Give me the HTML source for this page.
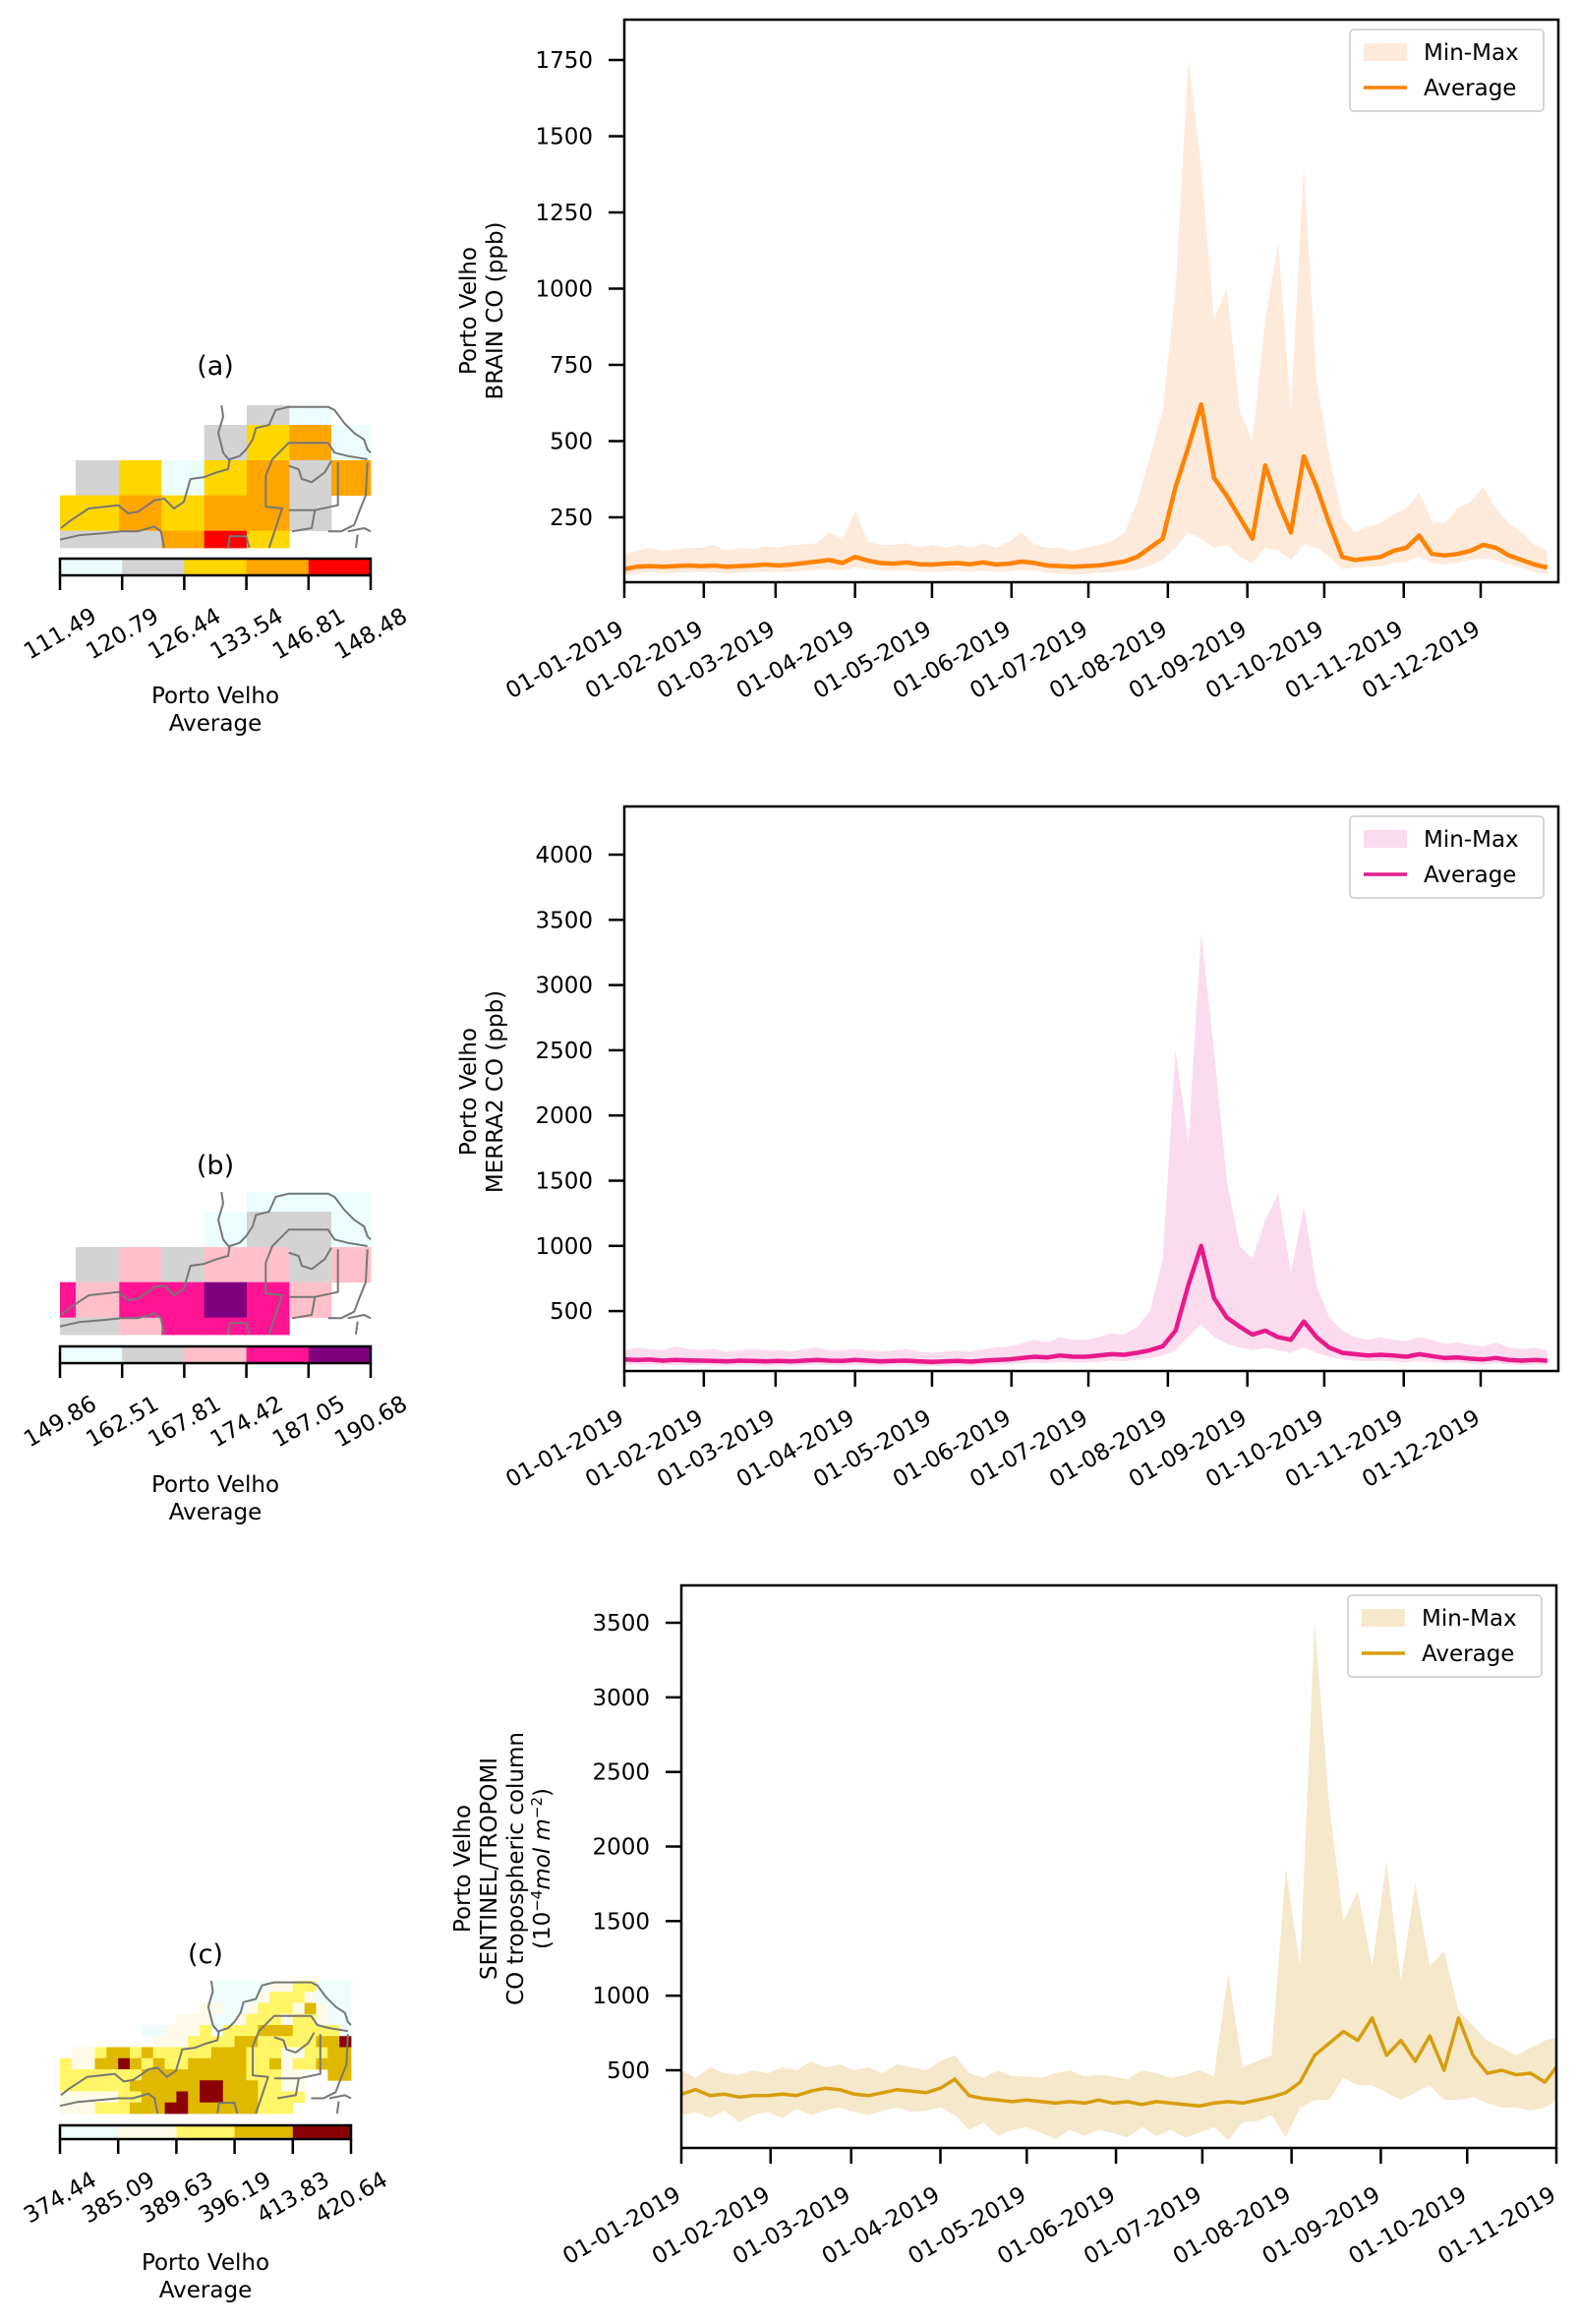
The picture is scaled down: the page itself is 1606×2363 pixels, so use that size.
<!DOCTYPE html>
<html><head><meta charset="utf-8"><style>
html,body{margin:0;padding:0;background:#fff;}
svg{display:block;font-family:"DejaVu Sans","Liberation Sans",sans-serif;}
</style></head><body>
<svg id="fig" width="1606" height="2363" viewBox="0 0 1606 2363" xmlns="http://www.w3.org/2000/svg"></svg>
<script>
// ---------- DATA ----------
const step12 = 5;
const monthLabels = ["01-01-2019","01-02-2019","01-03-2019","01-04-2019","01-05-2019","01-06-2019","01-07-2019","01-08-2019","01-09-2019","01-10-2019","01-11-2019","01-12-2019"];
const monthDays = [0,31,59,90,120,151,181,212,243,273,304,334];

const brainAvg = [80,88,90,88,90,92, 90,92,88,90,92,95, 92,95,100,105,110,100, 120,108,100,98,102,96, 95,98,100,96,102,95, 98,105,100,92,90,88, 90,92,98,105,120,150, 180,350,480,620,380,320, 250,180,420,300,200,450, 350,230,120,110,115,120, 140,150,190,130,125,130, 140,160,150,125,110,95, 85];
const brainMax = [130,140,150,140,145,150, 150,160,140,150,145,155, 150,160,160,165,200,180, 270,170,160,160,165,150, 160,150,160,150,165,150, 170,200,160,150,150,140, 150,160,170,200,300,450, 600,1000,1750,1400,900,1000, 600,500,900,1150,600,1400, 700,450,250,200,220,230, 260,280,330,240,230,280, 300,350,280,230,200,160, 140];
const brainMin = [60,65,70,65,68,70, 70,70,65,68,70,72, 70,72,75,78,80,75, 85,80,75,75,78,72, 70,72,75,70,75,70, 72,78,75,68,65,62, 65,68,70,75,80,90, 110,150,200,180,150,160, 120,100,150,140,110,160, 150,120,80,85,88,90, 100,105,120,100,95,100, 110,115,110,95,85,70, 65];

const merraAvg = [130,125,128,120,125,122, 120,118,115,120,118,115, 118,115,120,125,120,118, 125,120,115,118,120,115, 110,115,118,112,120,125, 130,140,150,145,160,150, 150,160,170,165,180,200, 230,350,700,1000,600,450, 380,320,350,300,280,420, 300,220,180,170,160,165, 160,150,170,155,140,145, 135,130,140,125,120,125, 120];
const merraMax = [200,220,210,200,230,210, 200,210,190,200,210,200, 200,190,210,220,200,200, 210,200,190,200,210,190, 180,190,200,190,210,220, 230,250,280,260,300,280, 280,300,330,320,380,500, 900,2500,1800,3400,2500,1500, 1000,900,1200,1400,800,1300, 700,450,350,300,280,300, 280,270,300,280,250,260, 240,230,260,220,210,220, 200];
const merraMin = [90,88,90,85,88,85, 85,82,80,85,82,80, 82,80,85,88,85,82, 88,85,80,82,85,80, 78,80,82,78,85,88, 90,100,105,100,110,105, 105,110,120,115,125,140, 160,200,300,400,300,250, 220,200,220,200,180,220, 180,150,130,120,115,118, 115,105,120,110,100,105, 95,90,100,90,85,90, 85];

const step3 = 5;
const s5pAvg = [340,370,330,340,320,330, 330,340,330,360,380,370, 340,330,350,370,360,350, 380,440,330,310,300,290, 300,290,280,290,280,300, 280,290,270,290,280,270, 260,280,290,280,300,320, 350,420,600,680,760,700, 850,600,700,560,730,500, 850,600,480,500,470,480, 420,520];
const s5pMax = [500,450,520,480,470,500, 480,520,500,560,520,540, 500,520,480,540,520,500, 560,600,480,450,500,460, 460,450,480,500,460,470, 460,440,500,480,450,470, 500,460,1150,520,560,600, 1850,1200,3500,2300,1500,1700, 1200,1900,1100,1750,1200,1300, 900,800,700,650,600,650, 700,720];
const s5pMin = [200,220,180,230,150,200, 220,180,240,200,230,250, 220,200,230,250,220,230, 250,200,100,150,60,100, 120,80,40,100,60,100, 80,50,120,60,100,50, 80,120,30,150,160,200, 50,250,300,300,450,400, 400,350,300,350,400,300, 300,320,280,250,250,230, 250,300];

const cbarA = ["111.49","120.79","126.44","133.54","146.81","148.48"];
const cbarB = ["149.86","162.51","167.81","174.42","187.05","190.68"];
const cbarC = ["374.44","385.09","389.63","396.19","413.83","420.64"];

// ---------- HELPERS ----------
const NS = "http://www.w3.org/2000/svg";
const fig = document.getElementById('fig');
const FS = 23;
function mk(tag, attrs, parent){
  const e = document.createElementNS(NS, tag);
  for (const k in attrs) e.setAttribute(k, attrs[k]);
  (parent||fig).appendChild(e);
  return e;
}
function txt(s, attrs, parent){ const t = mk('text', attrs, parent); t.textContent = s; return t; }

function chart(cfg){
  const g = mk('g', {});
  
  
  const xs = d => cfg.L + d * (cfg.R - cfg.L) / cfg.xmax;
  const ys = v => cfg.y0 + (cfg.v0 - v) * cfg.k;
  const clip = 'clip-' + cfg.name;
  const cp = mk('clipPath', {id: clip}, g);
  mk('rect', {x: cfg.L, y: cfg.T, width: cfg.R - cfg.L, height: cfg.B - cfg.T}, cp);
  const n = cfg.avg.length;
  const day = i => Math.min(i * cfg.step, cfg.xmax);
  let d = '';
  for (let i = 0; i < n; i++) d += (i ? 'L' : 'M') + xs(day(i)).toFixed(1) + ' ' + ys(cfg.max[i]).toFixed(1);
  for (let i = n - 1; i >= 0; i--) d += 'L' + xs(day(i)).toFixed(1) + ' ' + ys(cfg.min[i]).toFixed(1);
  const band = mk('path', {d: d + 'Z', fill: cfg.fill, 'clip-path': 'url(#' + clip + ')'}, g);
  
  
  let l = '';
  for (let i = 0; i < n; i++) l += (i ? 'L' : 'M') + xs(day(i)).toFixed(1) + ' ' + ys(cfg.avg[i]).toFixed(1);
  const line = mk('path', {d: l, fill: 'none', stroke: cfg.color, 'stroke-width': cfg.lw, 'stroke-linejoin': 'round', 'clip-path': 'url(#' + clip + ')'}, g);
  
  
  const fr = mk('rect', {x: cfg.L, y: cfg.T, width: cfg.R - cfg.L, height: cfg.B - cfg.T, fill: 'none', stroke: '#000', 'stroke-width': 2.5}, g);
  
  
  for (const v of cfg.yticks){
    const y = ys(v);
    mk('line', {x1: cfg.L - 16, x2: cfg.L, y1: y, y2: y, stroke: '#000', 'stroke-width': 2.5}, g);
    const t = txt(String(v), {x: cfg.L - 32, y: y + 8, 'font-size': FS, 'text-anchor': 'end'}, g);
    
    
  }
  for (let i = 0; i < cfg.xlabels.length; i++){
    const x = xs(cfg.xdays[i]);
    mk('line', {x1: x, x2: x, y1: cfg.B, y2: cfg.B + 16, stroke: '#000', 'stroke-width': 2.5}, g);
    const t = txt(cfg.xlabels[i], {x: 0, y: 0, 'font-size': FS, 'text-anchor': 'end', transform: 'translate(' + (x + 1) + ',' + (cfg.B + 52) + ') rotate(-30)'}, g);
    
    
  }
  const yt = txt('', {'font-size': FS, 'text-anchor': 'middle', transform: 'translate(' + cfg.titleX + ',' + cfg.titleY + ') rotate(-90)'}, g);
  
  
  cfg.title.forEach((s, i) => {
    const ts = mk('tspan', {x: 0, y: i * 27}, yt);
    ts.innerHTML = s;
  });
  const lg = mk('g', {}, g);
  
  
  const lx = cfg.R - 212, ly = cfg.T + 10;
  mk('rect', {x: lx, y: ly, width: 197, height: 83, rx: 4, fill: '#fff', 'fill-opacity': 0.85, stroke: '#d6d6d6', 'stroke-width': 2}, lg);
  mk('rect', {x: lx + 14, y: ly + 14, width: 44, height: 18, fill: cfg.fill}, lg);
  mk('line', {x1: lx + 14, x2: lx + 58, y1: ly + 59, y2: ly + 59, stroke: cfg.color, 'stroke-width': 3.5}, lg);
  const t1 = txt('Min-Max', {x: lx + 75, y: ly + 31, 'font-size': FS}, lg);
  
  
  const t2 = txt('Average', {x: lx + 75, y: ly + 67, 'font-size': FS}, lg);
  
  
}

chart({name: 'brain-co-chart', L: 635, R: 1585, T: 20, B: 592, xmax: 364.3, y0: 61, v0: 1750, k: 0.31,
  avg: brainAvg, max: brainMax, min: brainMin, step: step12,
  yticks: [250,500,750,1000,1250,1500,1750], xlabels: monthLabels, xdays: monthDays,
  fill: '#feeadb', color: '#ff8200', lw: 4.5, titleX: 484, titleY: 316,
  title: ['Porto Velho', 'BRAIN CO (ppb)']});

chart({name: 'merra2-co-chart', L: 635, R: 1585, T: 820, B: 1394, xmax: 364.3, y0: 869, v0: 4000, k: 0.1326,
  avg: merraAvg, max: merraMax, min: merraMin, step: step12,
  yticks: [500,1000,1500,2000,2500,3000,3500,4000], xlabels: monthLabels, xdays: monthDays,
  fill: '#fbdcee', color: '#e8198b', lw: 4.5, titleX: 484, titleY: 1110,
  title: ['Porto Velho', 'MERRA2 CO (ppb)']});

chart({name: 'tropomi-co-chart', L: 693, R: 1583, T: 1612, B: 2184, xmax: 304, y0: 1650, v0: 3500, k: 0.15167,
  avg: s5pAvg, max: s5pMax, min: s5pMin, step: step3,
  yticks: [500,1000,1500,2000,2500,3000,3500], xlabels: monthLabels.slice(0, 11), xdays: monthDays.slice(0, 11),
  fill: '#f6e8cb', color: '#d69e0e', lw: 3.5, titleX: 478, titleY: 1900,
  title: ['Porto Velho', 'SENTINEL/TROPOMI', 'CO tropospheric column', '(10<tspan dy="-8" font-size="15">−4</tspan><tspan dy="8" font-style="italic">mol m</tspan><tspan dy="-8" font-size="15">−2</tspan><tspan dy="8">)</tspan>']});

// ---------- MAPS ----------
const palA = ['#ffffff','#ecfdfd','#d3d3d3','#ffd700','#ffa500','#ff0000'];
const palB = ['#ffffff','#ecfdfd','#d3d3d3','#ffc0cb','#ff1493','#800080'];
const palC = ['#ffffff','#eefcfc','#fdfbe7','#fff566','#dfb800','#8b0000'];
const gridA = ["00000210","00002341","02313424","33434420","22245300"];
const gridB = ["00000111","00001221","02323323","43445430","22344400"];
const gridC = [
 "0000000000000111112233111",
 "0000000000000111123332111",
 "0000000000002211233324211",
 "0000000000222112333233211",
 "0000000112223133344433331",
 "0000000022233334433333445",
 "0223443433333444333223344",
 "3224454343344444334233444",
 "3333333444444444333220044",
 "3333334444445544433220000",
 "2222233444545544433330000",
 "2223334445544444433300000"];

const borderPaths = [
 [[65,590],[90,570],[150,530],[240,520],[270,545],[300,540],[330,520],[350,505],[380,500],[410,530],[440,510],[460,440],[500,435],[540,420],[575,410],[580,380],[610,370],[630,350],[650,320],[660,285],[700,275],[720,230],[760,220],[880,220],[900,230],[930,270],[960,300],[990,320],[1000,350],[1010,360]],
 [[62,625],[120,612],[200,605],[250,600],[300,600],[350,585],[370,600],[380,650]],
 [[575,650],[580,615],[630,615],[640,650]],
 [[700,650],[720,590],[740,530],[690,525],[690,430],[710,380],[760,330],[880,330],[900,360],[940,370],[1000,380]],
 [[555,215],[560,250],[545,300],[560,360],[580,385]],
 [[760,400],[790,410],[800,440],[830,450],[870,420],[890,385]],
 [[910,390],[910,520],[840,535],[760,535]],
 [[840,535],[830,590],[770,600]],
 [[1000,390],[995,490],[975,540],[960,580],[920,600],[880,600]],
 [[940,600],[990,590],[1010,600]],
 [[970,610],[965,650]]
];

function mapPanel(o){
  const g = mk('g', {});
  
  
  const t = txt(o.label, {x: (o.x0 + o.x1) / 2, y: o.titleY, 'font-size': 27, 'text-anchor': 'middle'}, g);
  
  
  for (let r = 0; r < o.grid.length; r++){
    const row = o.grid[r];
    for (let c = 0; c < row.length; c++){
      const v = +row[c];
      if (!v) continue;
      mk('rect', {x: o.colX[c], y: o.rowY[r], width: o.colX[c + 1] - o.colX[c] + 0.4, height: o.rowH[r] + 0.4, fill: o.pal[v]}, g);
    }
  }
  const sx = (o.x1 - o.x0) / (1010 - 62), sy = (o.y1 - o.y0) / (650 - 215);
  for (const p of borderPaths){
    const d = p.map((q, i) => (i ? 'L' : 'M') + (o.x0 + (q[0] - 62) * sx).toFixed(1) + ' ' + (o.y0 + (q[1] - 215) * sy).toFixed(1)).join('');
    const e = mk('path', {d: d, fill: 'none', stroke: '#777', 'stroke-width': 2, 'stroke-linejoin': 'round'}, g);
    
    
  }
  const cb = mk('g', {}, g);
  
  
  const w = (o.x1 - o.x0) / 5;
  for (let i = 0; i < 5; i++) mk('rect', {x: o.x0 + i * w, y: o.cbY, width: w + 0.3, height: o.cbH, fill: o.pal[i + 1]}, cb);
  mk('rect', {x: o.x0, y: o.cbY, width: o.x1 - o.x0, height: o.cbH, fill: 'none', stroke: '#000', 'stroke-width': 2.5}, cb);
  for (let i = 0; i < 6; i++){
    const x = o.x0 + i * w;
    mk('line', {x1: x, x2: x, y1: o.cbY + o.cbH, y2: o.cbY + o.cbH + 15, stroke: '#000', 'stroke-width': 2.5}, cb);
    const tl = txt(o.ticks[i], {x: 0, y: 8, 'font-size': FS, 'text-anchor': 'middle', transform: 'translate(' + x + ',' + (o.cbY + o.cbH + 59) + ') rotate(-30)'}, cb);
    
    
  }
  const c1 = txt('Porto Velho', {x: (o.x0 + o.x1) / 2, y: o.capY, 'font-size': FS, 'text-anchor': 'middle'}, g);
  
  
  const c2 = txt('Average', {x: (o.x0 + o.x1) / 2, y: o.capY + 28, 'font-size': FS, 'text-anchor': 'middle'}, g);
  
  
}

function coarse(x0, x1, y0, y1){
  const sx = (x1 - x0) / (1010 - 62), sy = (y1 - y0) / (650 - 215);
  const colX = [62,110,243,372,502,632,762,890,1010].map(v => x0 + (v - 62) * sx);
  const ys = [215,275,383,490,598,650].map(v => y0 + (v - 215) * sy);
  return {colX: colX, rowY: ys.slice(0, 5), rowH: ys.slice(1).map((v, i) => v - ys[i])};
}
mapPanel(Object.assign({name: 'map-panel-a', label: '(a)', x0: 61, x1: 377, y0: 412, y1: 557, titleY: 381, grid: gridA, pal: palA,
  cbY: 568, cbH: 17, ticks: cbarA, capY: 715}, coarse(61, 377, 412, 557)));
mapPanel(Object.assign({name: 'map-panel-b', label: '(b)', x0: 61, x1: 377, y0: 1212, y1: 1357, titleY: 1194, grid: gridB, pal: palB,
  cbY: 1369, cbH: 17, ticks: cbarB, capY: 1517}, coarse(61, 377, 1212, 1357)));
(function(){
  const x0 = 61, x1 = 357, y0 = 2014, y1 = 2149;
  const cols = gridC[0].length, rows = gridC.length;
  const colX = [], rowY = [], rowH = [];
  for (let c = 0; c <= cols; c++) colX.push(x0 + c * (x1 - x0) / cols);
  for (let r = 0; r < rows; r++){ rowY.push(y0 + r * (y1 - y0) / rows); rowH.push((y1 - y0) / rows); }
  mapPanel({name: 'map-panel-c', label: '(c)', x0: x0, x1: x1, y0: y0, y1: y1, titleY: 1996, grid: gridC, pal: palC,
    colX: colX, rowY: rowY, rowH: rowH, cbY: 2161, cbH: 14, ticks: cbarC, capY: 2308});
})();
</script>
</body></html>
